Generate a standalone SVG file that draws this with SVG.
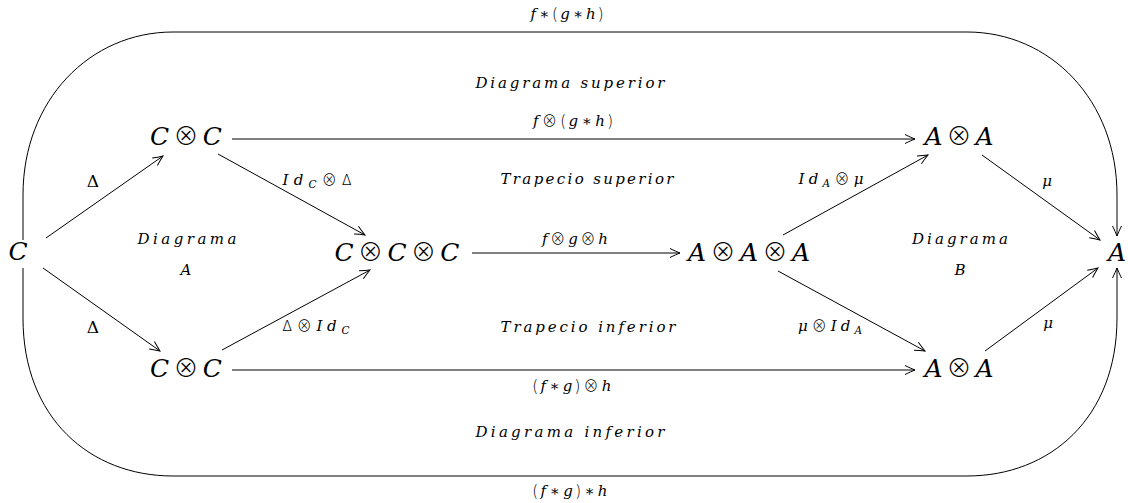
<svg xmlns="http://www.w3.org/2000/svg" width="1128" height="503" viewBox="0 0 1128 503">
<style>
.n{font-family:"DejaVu Serif",serif;font-size:25px;font-style:italic;text-anchor:middle;fill:#000}
.o{font-style:normal;font-family:"Noto Sans CJK SC","DejaVu Serif",serif;font-weight:300}
.l{font-family:"DejaVu Serif",serif;font-size:15px;font-style:italic;text-anchor:middle;fill:#000}
.s{font-size:10.5px}
.d{font-family:"DejaVu Serif",serif;font-size:17px;font-style:normal;text-anchor:middle;fill:#000}
.e{fill:none;stroke:#000;stroke-width:1}
</style>
<defs>
<marker id="ar" viewBox="-11 -6 13 12" refX="0" refY="0" markerWidth="13" markerHeight="12" orient="auto" markerUnits="userSpaceOnUse">
<path d="M-10,-4.5 C-6,-2.5 -2.5,-1 0,0 C-2.5,1 -6,2.5 -10,4.5" fill="none" stroke="#000" stroke-width="1"/>
</marker>
</defs>
<g id="connectors">
<path class="e" d="M23,240 L23,195 C23,100 90,32 173,32 L967,32 C1050,32 1117,100 1117,195 L1117,236" marker-end="url(#ar)"/>
<path class="e" d="M23,268 L23,318 C23,418 90,476 173,476 L967,476 C1050,476 1117,418 1117,318 L1117,268" marker-end="url(#ar)"/>
<line class="e" x1="46" y1="238" x2="163" y2="156" marker-end="url(#ar)"/>
<line class="e" x1="43" y1="268" x2="160" y2="351" marker-end="url(#ar)"/>
<line class="e" x1="218" y1="154" x2="365" y2="235" marker-end="url(#ar)"/>
<line class="e" x1="222" y1="350" x2="370" y2="270" marker-end="url(#ar)"/>
<line class="e" x1="232" y1="139" x2="915" y2="139" marker-end="url(#ar)"/>
<line class="e" x1="472" y1="253" x2="680" y2="253" marker-end="url(#ar)"/>
<line class="e" x1="232" y1="370" x2="915" y2="370" marker-end="url(#ar)"/>
<line class="e" x1="783" y1="235" x2="928" y2="155" marker-end="url(#ar)"/>
<line class="e" x1="778" y1="271" x2="925" y2="351" marker-end="url(#ar)"/>
<line class="e" x1="982" y1="155" x2="1100" y2="240" marker-end="url(#ar)"/>
<line class="e" x1="985" y1="351" x2="1098" y2="268" marker-end="url(#ar)"/>
</g>
<g id="labels">
<text class="l" x="567" y="19" textLength="73" lengthAdjust="spacing">f<tspan class="o">∗(</tspan>g<tspan class="o">∗</tspan>h<tspan class="o">)</tspan></text>
<text class="l" x="570" y="88" textLength="189" lengthAdjust="spacing">Diagrama superior</text>
<text class="l" x="573" y="126" textLength="80" lengthAdjust="spacing">f<tspan class="o">⊗(</tspan>g<tspan class="o">∗</tspan>h<tspan class="o">)</tspan></text>
<text class="l" x="587" y="184" textLength="173" lengthAdjust="spacing">Trapecio superior</text>
<text class="l" x="187" y="244" textLength="99" lengthAdjust="spacing">Diagrama</text>
<text class="l" x="186" y="275">A</text>
<text class="l" x="960" y="244" textLength="96" lengthAdjust="spacing">Diagrama</text>
<text class="l" x="960" y="275">B</text>
<text class="l" x="575" y="244" textLength="66" lengthAdjust="spacing">f<tspan class="o">⊗</tspan>g<tspan class="o">⊗</tspan>h</text>
<text class="l" x="588" y="332" textLength="175" lengthAdjust="spacing">Trapecio inferior</text>
<text class="l" x="572" y="391" textLength="79" lengthAdjust="spacing"><tspan class="o">(</tspan>f<tspan class="o">∗</tspan>g<tspan class="o">)⊗</tspan>h</text>
<text class="l" x="570" y="437" textLength="189" lengthAdjust="spacing">Diagrama inferior</text>
<text class="l" x="570" y="496" textLength="75" lengthAdjust="spacing"><tspan class="o">(</tspan>f<tspan class="o">∗</tspan>g<tspan class="o">)∗</tspan>h</text>
<text class="d" x="93" y="187">Δ</text>
<text class="d" x="93" y="333">Δ</text>
<text class="l" x="317" y="185" textLength="69" lengthAdjust="spacing">Id<tspan class="s" dy="3">C</tspan><tspan class="o" dy="-3">⊗Δ</tspan></text>
<text class="l" x="316" y="331" textLength="67" lengthAdjust="spacing"><tspan class="o">Δ⊗</tspan>Id<tspan class="s" dy="3">C</tspan></text>
<text class="l" x="831" y="184" textLength="65" lengthAdjust="spacing">Id<tspan class="s" dy="3">A</tspan><tspan class="o" dy="-3">⊗</tspan>μ</text>
<text class="l" x="830" y="331" textLength="64" lengthAdjust="spacing">μ<tspan class="o">⊗</tspan>Id<tspan class="s" dy="3">A</tspan></text>
<text class="l" x="1047" y="186">μ</text>
<text class="l" x="1048" y="328">μ</text>
</g>
<g id="node-C"><text class="n" x="18" y="260">C</text></g>
<g id="node-CC-top"><text class="n" x="186" y="145" textLength="72" lengthAdjust="spacing">C <tspan class="o">⊗</tspan> C</text></g>
<g id="node-CC-bottom"><text class="n" x="186" y="377" textLength="72" lengthAdjust="spacing">C <tspan class="o">⊗</tspan> C</text></g>
<g id="node-CCC"><text class="n" x="397" y="261" textLength="125" lengthAdjust="spacing">C <tspan class="o">⊗</tspan> C <tspan class="o">⊗</tspan> C</text></g>
<g id="node-AAA"><text class="n" x="749" y="261" textLength="122" lengthAdjust="spacing">A <tspan class="o">⊗</tspan> A <tspan class="o">⊗</tspan> A</text></g>
<g id="node-AA-top"><text class="n" x="959" y="145" textLength="69" lengthAdjust="spacing">A <tspan class="o">⊗</tspan> A</text></g>
<g id="node-AA-bottom"><text class="n" x="959" y="377" textLength="69" lengthAdjust="spacing">A <tspan class="o">⊗</tspan> A</text></g>
<g id="node-A"><text class="n" x="1117" y="261">A</text></g>
</svg>
